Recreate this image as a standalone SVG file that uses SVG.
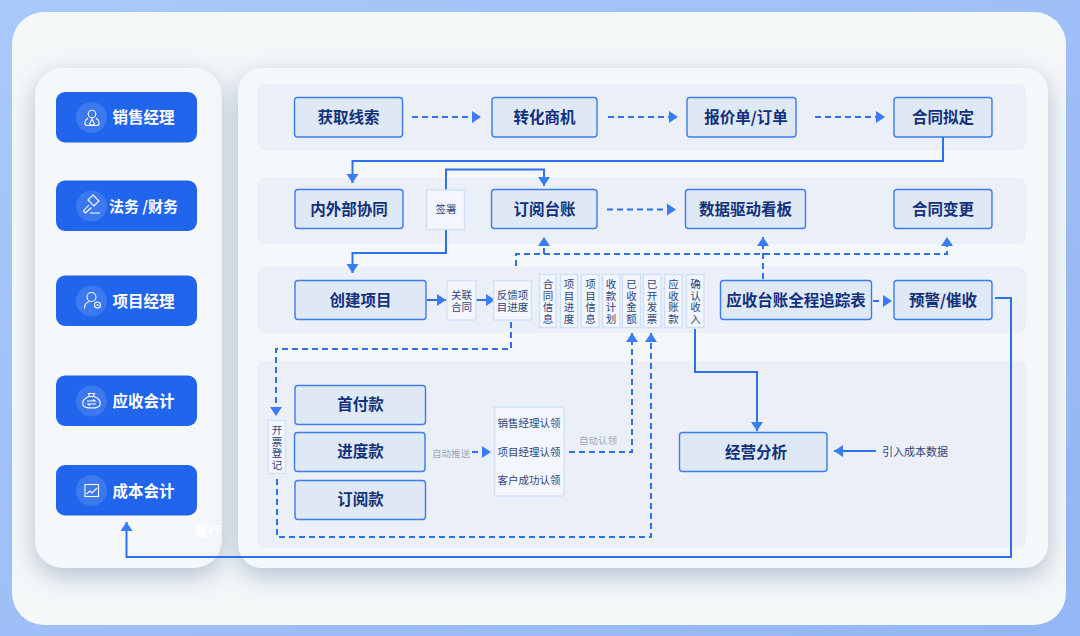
<svg xmlns="http://www.w3.org/2000/svg" width="1080" height="636" viewBox="0 0 1080 636">
<style>
text{font-family:"Noto Sans CJK SC","Noto Sans",sans-serif;text-anchor:middle}
.btn{fill:#2065ec}
.disc{fill:#3c78ee}
.btxt{fill:#fff;font-size:15.500px;font-weight:700}
.ico{fill:none;stroke:#fff;stroke-width:1.1}
.lane{fill:#ebf0f8}
.nd{fill:#dfe8f5;stroke:#3c7bf0;stroke-width:1.4}
.ntxt{fill:#12317c;font-size:15.500px;font-weight:700}
.sm{fill:#f3f7fd;stroke:#cfe0fb;stroke-width:1.4}
.stxt{fill:#2f4580;font-size:10.500px}
.lbl{fill:#a0a8b8;font-size:9.500px}
.solid{fill:none;stroke:#2f70ee;stroke-width:2}
.dash{fill:none;stroke:#2f70ee;stroke-width:2;stroke-dasharray:6 4}
</style>
<defs>
<linearGradient id="bg" x1="0" y1="0" x2="1" y2="1"><stop offset="0" stop-color="#a9c8fa"/><stop offset="1" stop-color="#94b6f4"/></linearGradient>
<filter id="sh" x="-25%" y="-20%" width="150%" height="145%"><feDropShadow dx="0" dy="8" stdDeviation="13" flood-color="#6f84a6" flood-opacity=".5"/></filter>
<marker id="ah" markerUnits="userSpaceOnUse" markerWidth="10" markerHeight="13" refX="9" refY="6.500" orient="auto"><path d="M0 .5L9 6.500L0 12.500Z" fill="#3a7bf6"/></marker>
</defs>
<rect width="1080" height="636" fill="url(#bg)"/>
<rect x="12" y="12" width="1054" height="613" rx="32" fill="#f4f8f9"/>
<rect x="35" y="68" width="187" height="500" rx="28" fill="#f4f8fa" filter="url(#sh)"/>
<rect x="238" y="68" width="810" height="500" rx="24" fill="#f4f8fa" filter="url(#sh)"/>
<g id="lanes">
<rect class="lane" x="257" y="84" width="769" height="66" rx="8"/>
<rect class="lane" x="257" y="178" width="769" height="66" rx="8"/>
<rect class="lane" x="257" y="267" width="769" height="66" rx="8"/>
<rect class="lane" x="257" y="361" width="769" height="187" rx="8"/>
</g>
<g id="role-sales"><rect class="btn" x="56" y="92" width="141" height="50.500" rx="9"/><circle class="disc" cx="91.500" cy="117.500" r="15.500"/><circle class="ico" cx="92" cy="114" r="3.800"/><path class="ico" d="M88 118c-4 3-4 7-1 7.500h10c3-.5 3-4.500-1-7.500M92 119l-2.500 5 2.500 1.500 2.500-1.500z"/><text class="btxt" x="143.500" y="123">销售经理</text></g>
<g id="role-legal"><rect class="btn" x="56" y="180.500" width="141" height="50.500" rx="9"/><circle class="disc" cx="91.500" cy="206" r="15.500"/><path class="ico" d="M88 200l5-5 6 6-5 5zM89 205l-5.500 6 2 2 6-5.500M90 213h10"/><text class="btxt" x="143.500" y="212" style="font-size:15px">法务 /财务</text></g>
<g id="role-pm"><rect class="btn" x="56" y="275.500" width="141" height="50.500" rx="9"/><circle class="disc" cx="91.500" cy="301" r="15.500"/><circle class="ico" cx="91.500" cy="297" r="4.500"/><path class="ico" d="M84.500 308.500c0-4 2.500-6.500 5-7M95 302l1 1"/><circle class="ico" cx="97.500" cy="305" r="3"/><circle cx="97.500" cy="305" r="1" fill="#fff"/><text class="btxt" x="143.500" y="307">项目经理</text></g>
<g id="role-ar"><rect class="btn" x="56" y="375.500" width="141" height="50.500" rx="9"/><circle class="disc" cx="91.500" cy="401" r="15.500"/><path class="ico" d="M88.500 393.500h6l-1 3h-4zM89 396.500c-5 2-7 5.500-6 8.500 1 2.500 3 3 8.500 3s7.500-.5 8.500-3c1-3-1-6.500-6-8.500M87 401h8l-2-1.500M96 404h-8l2 1.500"/><text class="btxt" x="143.500" y="407">应收会计</text></g>
<g id="role-cost"><rect class="btn" x="56" y="465" width="141" height="50.500" rx="9"/><circle class="disc" cx="91.500" cy="490.500" r="15.500"/><rect class="ico" x="85" y="484.500" width="13.500" height="12"/><path class="ico" d="M86.500 494l3.500-3 2 2 5-5"/><text class="btxt" x="143.500" y="496.500">成本会计</text></g>
<text x="208" y="535" fill="#fff" font-size="13" font-weight="700">履行</text>

<g id="connectors">
<path class="dash" marker-end="url(#ah)" d="M412 117H481"/>
<path class="dash" marker-end="url(#ah)" d="M608 117H678"/>
<path class="dash" marker-end="url(#ah)" d="M815 117H885"/>
<path class="solid" marker-end="url(#ah)" d="M943 137V161H352.500V183"/>
<path class="solid" marker-end="url(#ah)" d="M446 190V169.500H544V186"/>
<path class="solid" marker-end="url(#ah)" d="M446 230V253H352.500V273"/>
<path class="dash" marker-end="url(#ah)" d="M607 209.500H676"/>
<path class="solid" marker-end="url(#ah)" d="M427 300H446"/>
<path class="solid" marker-end="url(#ah)" d="M476 300H495"/>
<path class="dash" marker-end="url(#ah)" d="M516 266V254H947V237"/>
<path class="dash" marker-end="url(#ah)" d="M544 254V237"/>
<path class="dash" marker-end="url(#ah)" d="M763 279V237"/>
<path class="dash" marker-end="url(#ah)" d="M873 301H892"/>
<path class="solid" marker-end="url(#ah)" d="M995 298H1011V557H126.500V522"/>
<path class="dash" marker-end="url(#ah)" d="M511 322V349H276V416"/>
<path class="dash" marker-end="url(#ah)" d="M277 479V537H651V333"/>
<path class="dash" marker-end="url(#ah)" d="M569 452H632V333"/>
<path class="dash" marker-end="url(#ah)" d="M472 452H491"/>
<path class="solid" marker-end="url(#ah)" d="M695 329V372H757V431"/>
<path class="solid" marker-end="url(#ah)" d="M876 451H834"/>
</g>

<g id="n1"><rect class="nd" x="294.500" y="97.500" width="108" height="39.500" rx="3"/><text class="ntxt" x="348.500" y="122.500">获取线索</text></g>
<g id="n2"><rect class="nd" x="492" y="97.500" width="105" height="39.500" rx="3"/><text class="ntxt" x="544.500" y="122.500">转化商机</text></g>
<g id="n3"><rect class="nd" x="687" y="97.500" width="109" height="39.500" rx="3"/><text class="ntxt" x="746" y="122.500">报价单/订单</text></g>
<g id="n4"><rect class="nd" x="894" y="97.500" width="98" height="39.500" rx="3"/><text class="ntxt" x="943" y="122.500">合同拟定</text></g>
<g id="n5"><rect class="nd" x="295" y="189.500" width="108" height="39" rx="3"/><text class="ntxt" x="349" y="214.500">内外部协同</text></g>
<g id="n6"><rect class="sm" x="426.500" y="190" width="38" height="39.500"/><text class="stxt" x="446" y="212.500">签署</text></g>
<g id="n7"><rect class="nd" x="491.500" y="189.500" width="105.500" height="39" rx="3"/><text class="ntxt" x="544.500" y="214.500">订阅台账</text></g>
<g id="n8"><rect class="nd" x="685.500" y="189.500" width="120" height="39" rx="3"/><text class="ntxt" x="745.500" y="214.500">数据驱动看板</text></g>
<g id="n9"><rect class="nd" x="894" y="189.500" width="98" height="39" rx="3"/><text class="ntxt" x="943" y="214.500">合同变更</text></g>
<g id="n10"><rect class="nd" x="295" y="280.500" width="131" height="39" rx="3"/><text class="ntxt" x="360.500" y="305.500">创建项目</text></g>
<g id="n11"><rect class="sm" x="447" y="280.500" width="29" height="39.500"/><text class="stxt" x="461.500" y="299"><tspan x="461.500">关联</tspan><tspan x="461.500" dy="11.500">合同</tspan></text></g>
<g id="n12"><rect class="sm" x="493.500" y="280.500" width="38" height="39.500"/><text class="stxt" x="512.500" y="299"><tspan x="512.500">反馈项</tspan><tspan x="512.500" dy="11.500">目进度</tspan></text></g>
<g id="n13"><rect class="sm" x="539.500" y="274.500" width="16.500" height="53"/><text class="stxt" y="288"><tspan x="548">合</tspan><tspan x="548" dy="11.700">同</tspan><tspan x="548" dy="11.700">信</tspan><tspan x="548" dy="11.700">息</tspan></text></g>
<g id="n14"><rect class="sm" x="560.500" y="274.500" width="17" height="53"/><text class="stxt" y="288"><tspan x="569">项</tspan><tspan x="569" dy="11.700">目</tspan><tspan x="569" dy="11.700">进</tspan><tspan x="569" dy="11.700">度</tspan></text></g>
<g id="n15"><rect class="sm" x="581.500" y="274.500" width="17.500" height="53"/><text class="stxt" y="288"><tspan x="590.500">项</tspan><tspan x="590.500" dy="11.700">目</tspan><tspan x="590.500" dy="11.700">信</tspan><tspan x="590.500" dy="11.700">息</tspan></text></g>
<g id="n16"><rect class="sm" x="602.500" y="274.500" width="17.500" height="53"/><text class="stxt" y="288"><tspan x="611">收</tspan><tspan x="611" dy="11.700">款</tspan><tspan x="611" dy="11.700">计</tspan><tspan x="611" dy="11.700">划</tspan></text></g>
<g id="n17"><rect class="sm" x="622.500" y="274.500" width="18" height="53"/><text class="stxt" y="288"><tspan x="631.500">已</tspan><tspan x="631.500" dy="11.700">收</tspan><tspan x="631.500" dy="11.700">金</tspan><tspan x="631.500" dy="11.700">额</tspan></text></g>
<g id="n18"><rect class="sm" x="643.500" y="274.500" width="17.500" height="53"/><text class="stxt" y="288"><tspan x="652">已</tspan><tspan x="652" dy="11.700">开</tspan><tspan x="652" dy="11.700">发</tspan><tspan x="652" dy="11.700">票</tspan></text></g>
<g id="n19"><rect class="sm" x="664.500" y="274.500" width="17.500" height="53"/><text class="stxt" y="288"><tspan x="673.500">应</tspan><tspan x="673.500" dy="11.700">收</tspan><tspan x="673.500" dy="11.700">账</tspan><tspan x="673.500" dy="11.700">款</tspan></text></g>
<g id="n20"><rect class="sm" x="686.500" y="274.500" width="17.500" height="53"/><text class="stxt" y="288"><tspan x="695.500">确</tspan><tspan x="695.500" dy="11.700">认</tspan><tspan x="695.500" dy="11.700">收</tspan><tspan x="695.500" dy="11.700">入</tspan></text></g>
<g id="n21"><rect class="nd" x="720.500" y="280.500" width="151" height="39" rx="3"/><text class="ntxt" x="796" y="305.500">应收台账全程追踪表</text></g>
<g id="n22"><rect class="nd" x="894" y="280.500" width="98" height="39" rx="3"/><text class="ntxt" x="943" y="305.500">预警/催收</text></g>
<g id="n23"><rect class="sm" x="268" y="420.500" width="17.500" height="53"/><text class="stxt" y="434"><tspan x="277">开</tspan><tspan x="277" dy="11.700">票</tspan><tspan x="277" dy="11.700">登</tspan><tspan x="277" dy="11.700">记</tspan></text></g>
<g id="n24"><rect class="nd" x="295" y="385.500" width="130.500" height="39" rx="3"/><text class="ntxt" x="360.500" y="410">首付款</text></g>
<g id="n25"><rect class="nd" x="294.500" y="432.500" width="130.500" height="39" rx="3"/><text class="ntxt" x="360.500" y="457">进度款</text></g>
<g id="n26"><rect class="nd" x="295" y="480.500" width="130.500" height="39" rx="3"/><text class="ntxt" x="360.500" y="505">订阅款</text></g>
<g id="n27"><rect class="sm" x="494.500" y="407" width="69.500" height="89"/><text class="stxt" x="529" y="427">销售经理认领</text><text class="stxt" x="529" y="455.500">项目经理认领</text><text class="stxt" x="529" y="484">客户成功认领</text></g>
<g id="n28"><rect class="nd" x="679.500" y="432.500" width="147.500" height="39" rx="3"/><text class="ntxt" x="756" y="457.500">经营分析</text></g>
<text class="lbl" x="451" y="456.500">自动推送</text>
<text class="lbl" x="598" y="443.500">自动认领</text>
<text class="stxt" x="915" y="455.500" style="font-size:11px">引入成本数据</text>
</svg>
